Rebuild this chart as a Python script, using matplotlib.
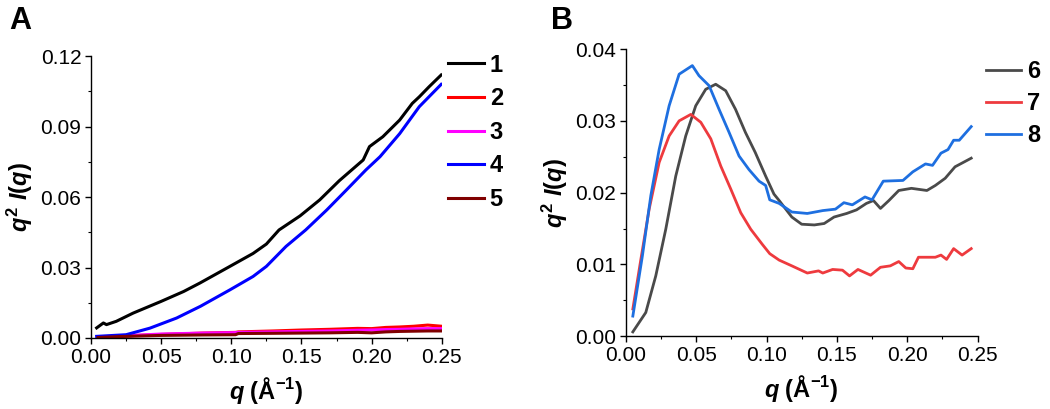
import numpy as np
import matplotlib.pyplot as plt
import matplotlib as mpl
from matplotlib.ticker import MultipleLocator, FormatStrFormatter

mpl.rcParams.update({
    "font.family": "Liberation Sans",
    "font.size": 15,
    "mathtext.fontset": "custom",
    "mathtext.rm": "Liberation Sans:bold",
    "mathtext.it": "Liberation Sans:italic:bold",
    "mathtext.bf": "Liberation Sans:bold",
    "axes.linewidth": 1.0,
    "xtick.direction": "out",
    "ytick.direction": "out",
    "xtick.major.size": 4,
    "ytick.major.size": 4,
    "xtick.minor.size": 2.5,
    "ytick.minor.size": 2.5,
    "xtick.major.width": 1.0,
    "ytick.major.width": 1.0,
    "xtick.minor.width": 0.8,
    "ytick.minor.width": 0.8,
})

# ---- panel A data ----
q1 = [0.004, 0.0088, 0.011, 0.018, 0.030, 0.050, 0.066, 0.0776, 0.099, 0.1155,
      0.125, 0.134, 0.149, 0.163, 0.177, 0.194, 0.1985, 0.208, 0.220, 0.229,
      0.234, 0.241, 0.2496]
s1 = [0.0043, 0.0064, 0.0057, 0.0071, 0.0106, 0.0156, 0.0198, 0.0234, 0.0305, 0.036,
      0.040, 0.046, 0.052, 0.0588, 0.067, 0.0758, 0.0815, 0.0857, 0.0928, 0.0999,
      0.1027, 0.107, 0.112]

q4 = [0.004, 0.025, 0.042, 0.061, 0.078, 0.099, 0.1155, 0.125, 0.139, 0.153,
      0.168, 0.182, 0.196, 0.206, 0.220, 0.234, 0.2496]
s4 = [0.0007, 0.0014, 0.0042, 0.0085, 0.0135, 0.0205, 0.0262, 0.0305, 0.039, 0.046,
      0.0545, 0.063, 0.0716, 0.0772, 0.087, 0.0985, 0.108]

q_low = [0.005, 0.02, 0.05, 0.08, 0.103, 0.105, 0.13, 0.15, 0.17, 0.19, 0.20, 0.21,
         0.22, 0.23, 0.24, 0.25]
s2 = [0.0003, 0.0008, 0.0015, 0.0021, 0.0024, 0.0026, 0.0030, 0.0034, 0.0037, 0.0041,
      0.0040, 0.0045, 0.0047, 0.0050, 0.0055, 0.0050]
s3 = [0.0003, 0.0008, 0.0017, 0.0021, 0.0023, 0.0024, 0.0026, 0.0028, 0.0030, 0.0033,
      0.0034, 0.0036, 0.0037, 0.0039, 0.0040, 0.0040]
s5 = [0.0002, 0.0006, 0.0011, 0.0013, 0.0014, 0.0019, 0.0020, 0.0021, 0.0022, 0.0024,
      0.0022, 0.0026, 0.0028, 0.0029, 0.0030, 0.0030]

# ---- panel B data ----
q6 = [0.005, 0.0142, 0.0213, 0.0284, 0.0355, 0.0426, 0.0497, 0.0568, 0.0639, 0.071,
      0.078, 0.085, 0.092, 0.0994, 0.1053, 0.109, 0.118, 0.125, 0.134, 0.141,
      0.148, 0.157, 0.164, 0.171, 0.176, 0.181, 0.187, 0.194, 0.203, 0.214,
      0.220, 0.227, 0.234, 0.2455]
s6 = [0.0006, 0.0033, 0.0084, 0.0149, 0.0223, 0.0279, 0.0321, 0.0344, 0.0351, 0.0342,
      0.0316, 0.0284, 0.0256, 0.0223, 0.0198, 0.0189, 0.0166, 0.0156, 0.0155, 0.0157,
      0.0166, 0.0171, 0.0176, 0.0185, 0.0189, 0.0178, 0.0189, 0.0203, 0.0206, 0.0203,
      0.0210, 0.0220, 0.0236, 0.0248]

q7 = [0.005, 0.0107, 0.0166, 0.0237, 0.0308, 0.0379, 0.0462, 0.0533, 0.0604, 0.0675,
      0.0746, 0.0817, 0.0888, 0.097, 0.1023, 0.109, 0.118, 0.129, 0.137, 0.140,
      0.147, 0.154, 0.159, 0.165, 0.174, 0.181, 0.188, 0.194, 0.199, 0.204,
      0.208, 0.220, 0.224, 0.228, 0.233, 0.239, 0.2455]
s7 = [0.0038, 0.0107, 0.0177, 0.0242, 0.0279, 0.0300, 0.0309, 0.0298, 0.0275, 0.0237,
      0.0205, 0.0172, 0.0149, 0.0128, 0.0115, 0.0106, 0.0098, 0.0088, 0.0091, 0.0088,
      0.0093, 0.0092, 0.0084, 0.0093, 0.0085, 0.0096, 0.0098, 0.0104, 0.0095, 0.0094,
      0.0110, 0.0110, 0.0113, 0.0107, 0.0122, 0.0113, 0.0122]

q8 = [0.005, 0.0118, 0.0178, 0.0237, 0.0308, 0.0379, 0.0473, 0.052, 0.0592, 0.0663,
      0.0734, 0.0805, 0.0876, 0.0947, 0.0994, 0.1023, 0.109, 0.118, 0.129, 0.140,
      0.149, 0.155, 0.161, 0.170, 0.175, 0.183, 0.197, 0.204, 0.213, 0.218,
      0.224, 0.229, 0.233, 0.237, 0.2455]
s8 = [0.0028, 0.0112, 0.0196, 0.0260, 0.0321, 0.0365, 0.0377, 0.0363, 0.0349, 0.0316,
      0.0284, 0.0251, 0.0232, 0.0216, 0.0210, 0.0190, 0.0185, 0.0173, 0.0171, 0.0175,
      0.0177, 0.0186, 0.0183, 0.0194, 0.0190, 0.0216, 0.0217, 0.0229, 0.0240, 0.0238,
      0.0255, 0.0260, 0.0273, 0.0273, 0.0292]

XLABEL = r"$q$ (Å$^{-1}$)"
YLABEL = r"$q^2\ I(q)$"

fig = plt.figure(figsize=(10.5, 4.09), dpi=100)
axA = fig.add_axes([0.0867, 0.1736, 0.334, 0.689])
axB = fig.add_axes([0.596, 0.178, 0.335, 0.702])


def style(ax, ymax, ystep):
    ax.spines["top"].set_visible(False)
    ax.spines["right"].set_visible(False)
    ax.set_xlim(0, 0.25)
    ax.set_ylim(0, ymax)
    ax.xaxis.set_major_locator(MultipleLocator(0.05))
    ax.xaxis.set_minor_locator(MultipleLocator(0.025))
    ax.yaxis.set_major_locator(MultipleLocator(ystep))
    ax.yaxis.set_minor_locator(MultipleLocator(ystep / 2))
    ax.xaxis.set_major_formatter(FormatStrFormatter("%.2f"))
    ax.yaxis.set_major_formatter(FormatStrFormatter("%.2f"))
    ax.tick_params(labelsize=15, pad=3)
    ax.set_xlabel(XLABEL, fontsize=17, fontweight="bold", labelpad=6)
    ax.set_ylabel(YLABEL, fontsize=17, fontweight="bold", labelpad=4)


# ---- A ----
axA.plot(q1, s1, color="black", lw=2.2, label="1")
axA.plot(q_low, s2, color="#ff0000", lw=2.2, label="2")
axA.plot(q_low, s3, color="#ff00ff", lw=2.2, label="3")
axA.plot(q4, s4, color="#0000ff", lw=2.2, label="4")
axA.plot(q_low, s5, color="#800000", lw=2.2, label="5")
style(axA, 0.12, 0.03)
legA = axA.legend(loc="upper left", bbox_to_anchor=(0.427, 0.869),
                  bbox_transform=fig.transFigure, frameon=False,
                  prop={"size": 17, "weight": "bold"}, handlelength=1.5,
                  handletextpad=0.25, labelspacing=0.45, borderpad=0,
                  borderaxespad=0)

# ---- B ----
axB.plot(q6, s6, color="#4a4a4a", lw=2.0, label="6")
axB.plot(q7, s7, color="#ee3a3e", lw=2.0, label="7")
axB.plot(q8, s8, color="#1e6fe0", lw=2.0, label="8")
style(axB, 0.04, 0.01)
legB = axB.legend(loc="upper left", bbox_to_anchor=(0.939, 0.853),
                  bbox_transform=fig.transFigure, frameon=False,
                  prop={"size": 17, "weight": "bold"}, handlelength=1.5,
                  handletextpad=0.25, labelspacing=0.38, borderpad=0,
                  borderaxespad=0)

fig.text(0.009, 0.985, "A", fontsize=22, fontweight="bold", va="top")
fig.text(0.525, 0.985, "B", fontsize=22, fontweight="bold", va="top")

fig.savefig("out.png", dpi=100)
